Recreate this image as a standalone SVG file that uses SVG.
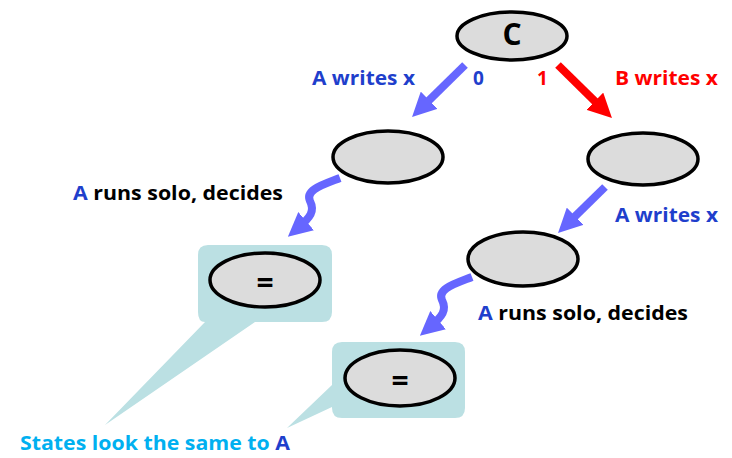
<svg xmlns="http://www.w3.org/2000/svg" width="732" height="458" viewBox="0 0 732 458">
<style>
.node{fill:#DCDCDC;stroke:#000;stroke-width:3.5}
.box{fill:#BBE0E3}
.t{font-family:"Open Sans","Liberation Sans",sans-serif;font-weight:bold;font-size:19px}
.blue{fill:#1F3FCC}
.red{fill:#FF0000}
.blk{fill:#000}
.cyan{fill:#00B0F0}
.arr{fill:none;stroke-width:8}
.sym{font-family:"Open Sans","Liberation Sans",sans-serif;font-weight:bold;text-anchor:middle;fill:#000}
</style>
<defs>
<marker id="hb" markerUnits="userSpaceOnUse" markerWidth="24" markerHeight="24" viewBox="0 0 24 24" refX="12" refY="12" orient="auto"><path d="M0,0 L24,12 L0,24 z" fill="#6666FF"/></marker>
<marker id="hr" markerUnits="userSpaceOnUse" markerWidth="24" markerHeight="24" viewBox="0 0 24 24" refX="12" refY="12" orient="auto"><path d="M0,0 L24,12 L0,24 z" fill="#FF0000"/></marker>
</defs>

<g id="callout-left">
<path class="box" d="M208,245 H322 Q332,245 332,255 V312 Q332,322 322,322 H255 L105,425 L205,322 Q198,322 198,312 V255 Q198,245 208,245 Z"/>
</g>
<g id="callout-right">
<path class="box" d="M342,342 H455 Q465,342 465,352 V408 Q465,418 455,418 H342 Q332,418 332,408 V407 L287,428 L332,385 V352 Q332,342 342,342 Z"/>
</g>

<g id="connectors">
<path class="arr" stroke="#6666FF" d="M465,65 L420.6,108.6" marker-end="url(#hb)"/>
<path class="arr" stroke="#FF0000" d="M558,65 L603.4,109.6" marker-end="url(#hr)"/>
<path class="arr" stroke="#6666FF" d="M605,187 L566.6,224.6" marker-end="url(#hb)"/>
<path class="arr" stroke="#6666FF" d="M340,178 C322,185 305,190 310,201 C315,211 311,217 297,229" marker-end="url(#hb)"/>
<path class="arr" stroke="#6666FF" d="M472,277 C454,284 437,289 442,300 C447,310 443,316 429,328" marker-end="url(#hb)"/>
</g>

<g id="node-c">
<ellipse class="node" cx="512" cy="36" rx="55" ry="24"/>
<text class="sym" x="512" y="45" font-size="30">C</text>
</g>
<g id="node-left">
<ellipse class="node" cx="388" cy="157" rx="55" ry="26"/>
</g>
<g id="node-right">
<ellipse class="node" cx="643" cy="159" rx="55" ry="26"/>
</g>
<g id="node-mid">
<ellipse class="node" cx="523" cy="259" rx="55" ry="27"/>
</g>
<g id="node-eq-left">
<ellipse class="node" cx="265" cy="280" rx="55" ry="27"/>
<text class="sym" x="265" y="293" font-size="30">=</text>
</g>
<g id="node-eq-right">
<ellipse class="node" cx="400" cy="378" rx="55" ry="28"/>
<text class="sym" x="400" y="391" font-size="30">=</text>
</g>

<g id="labels">
<text class="t blue" x="312" y="85" textLength="103" lengthAdjust="spacingAndGlyphs">A writes x</text>
<text class="t blue" x="473" y="85">0</text>
<text class="t red" x="537" y="85">1</text>
<text class="t red" x="615" y="85" textLength="103" lengthAdjust="spacingAndGlyphs">B writes x</text>
<text class="t blk" x="73" y="200" textLength="210" lengthAdjust="spacingAndGlyphs"><tspan class="blue">A</tspan> runs solo, decides</text>
<text class="t blue" x="615" y="222" textLength="103" lengthAdjust="spacingAndGlyphs">A writes x</text>
<text class="t blk" x="478" y="320" textLength="210" lengthAdjust="spacingAndGlyphs"><tspan class="blue">A</tspan> runs solo, decides</text>
<text class="t cyan" x="20" y="450" textLength="270" lengthAdjust="spacingAndGlyphs">States look the same to <tspan class="blue">A</tspan></text>
</g>
</svg>
